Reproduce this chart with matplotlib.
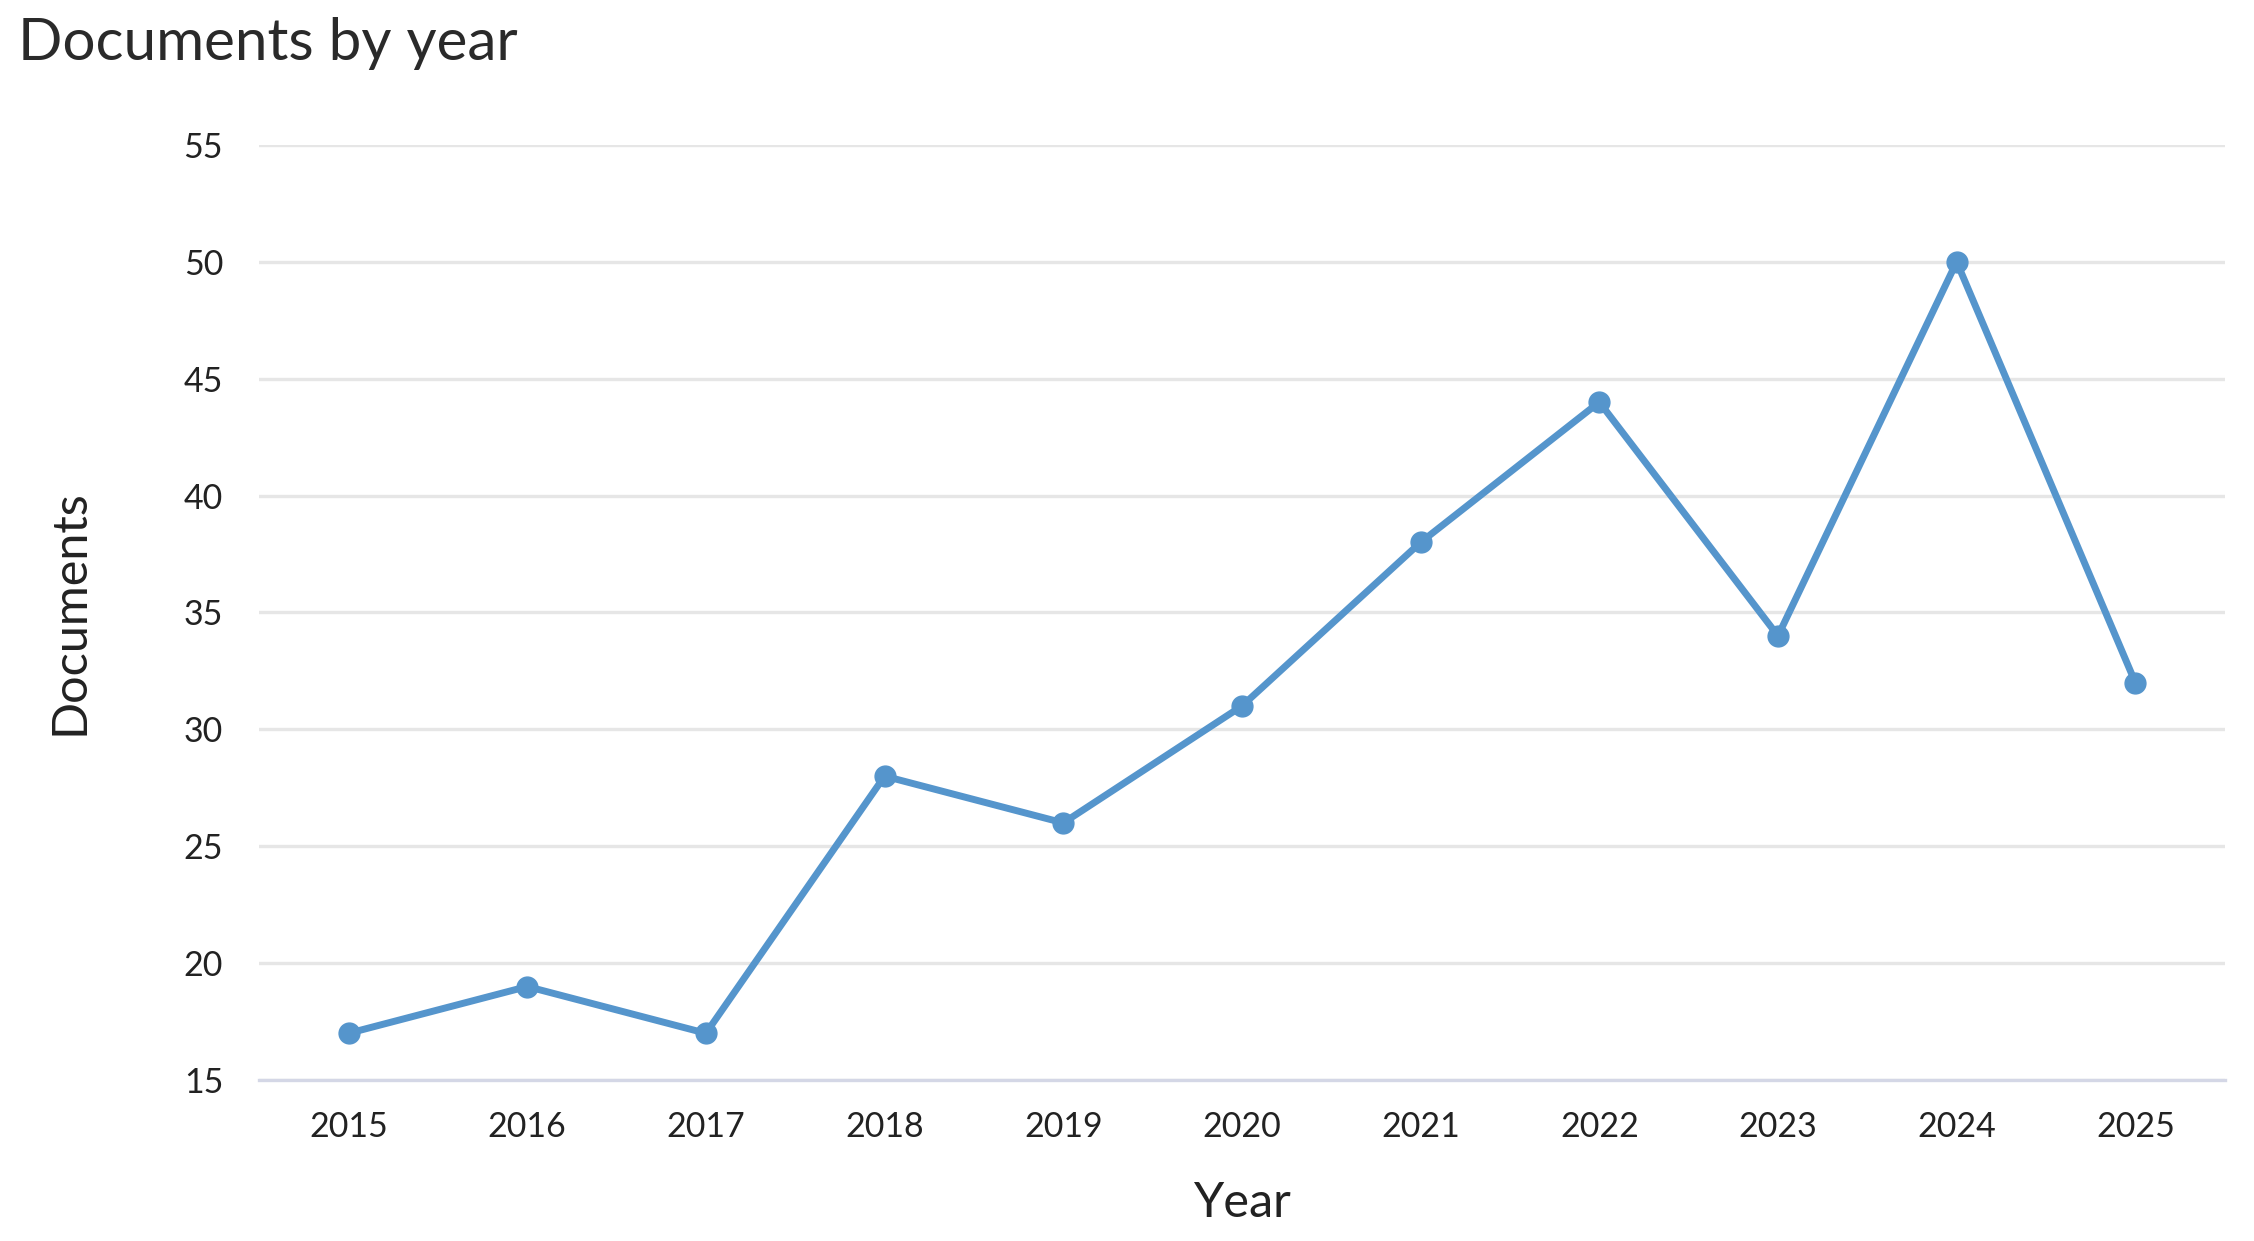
import matplotlib
matplotlib.use("Agg")
import matplotlib.pyplot as plt

# data
years = [2015, 2016, 2017, 2018, 2019, 2020, 2021, 2022, 2023, 2024, 2025]
documents = [17, 19, 17, 28, 26, 31, 38, 44, 34, 50, 32]
y_ticks = [15, 20, 25, 30, 35, 40, 45, 50, 55]

plt.rcParams['font.family'] = ['Lato', 'DejaVu Sans']

fig = plt.figure(figsize=(22.54, 12.41), dpi=100)
ax = fig.add_axes([0.115, 0.1297, 0.872, 0.7535])

line_color = '#5595cc'
ax.plot(years, documents, '-o', color=line_color, linewidth=5,
        markersize=15, zorder=3)

ax.set_xlim(2014.5, 2025.5)
ax.set_ylim(15, 55)
ax.set_xticks(years)
ax.set_yticks(y_ticks)

# light horizontal gridlines, no frame
ax.grid(axis='y', color='#e6e6e6', linewidth=2.4)
ax.set_axisbelow(True)
for side in ['top', 'right', 'left']:
    ax.spines[side].set_visible(False)
ax.spines['bottom'].set_color('#d4d7e6')
ax.spines['bottom'].set_linewidth(2.4)

ax.tick_params(axis='both', length=0, labelsize=24.5, labelcolor='#222222')
ax.tick_params(axis='y', pad=26)
ax.tick_params(axis='x', pad=22)

ax.set_xlabel('Year', fontsize=35, color='#222222', labelpad=28)
ax.set_ylabel('Documents', fontsize=35, color='#222222', labelpad=66)

fig.text(0.008, 0.965, 'Documents by year', fontsize=42, color='#2a2a2a',
         ha='left', va='center')

fig.savefig('out.png', dpi=100)
